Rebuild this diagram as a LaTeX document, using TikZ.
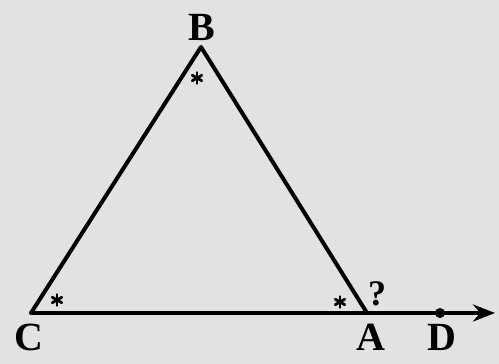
\documentclass[tikz,border=0pt]{standalone}
\usepackage{fontspec}
\setmainfont{Liberation Serif}
\usetikzlibrary{arrows.meta}
\definecolor{bgscan}{RGB}{226,226,226}
\begin{document}
\begin{tikzpicture}[x=1pt,y=1pt,
  lbl/.style={font=\fontsize{40}{42}\selectfont\bfseries, inner sep=0pt},
  side/.style={line width=4pt, line cap=round, line join=round},
  qmark/.style={font=\fontsize{36}{36}\selectfont\bfseries, inner sep=0pt},
  spoke/.style={line width=2.8pt, line cap=round}]
\fill[bgscan] (0,0) rectangle (499,364);
\useasboundingbox (0,0) rectangle (499,364);
% vertices
\coordinate (C) at (31,51);
\coordinate (B) at (201,317);
\coordinate (A) at (367,51);
\coordinate (Dp) at (440,51);
\coordinate (E) at (495,51);
% sides
\draw[side] (C) -- (B) -- (A);
\draw[line width=4pt, -{Stealth[length=22pt,width=17pt]}] (C) -- (E);
\fill (Dp) circle (5pt);
% labels
\node[lbl] (lB) at (202,337) {B};
\node[lbl] (lC) at (29,27) {C};
\node[lbl] (lA) at (371,27) {A};
\node[lbl] (lD) at (442,27) {D};
\node[qmark] (q) at (377,70) {?};
% angle marks (asterisks)
\coordinate (sB) at (197,286);
\coordinate (sC) at (57,64);
\coordinate (sA) at (340,62);
\foreach \n in {sB,sC,sA}{
  \foreach \a in {90,150,210,270,330,30}
    \draw[spoke] (\n) -- ++(\a:5.5pt);
}
\end{tikzpicture}
\end{document}
